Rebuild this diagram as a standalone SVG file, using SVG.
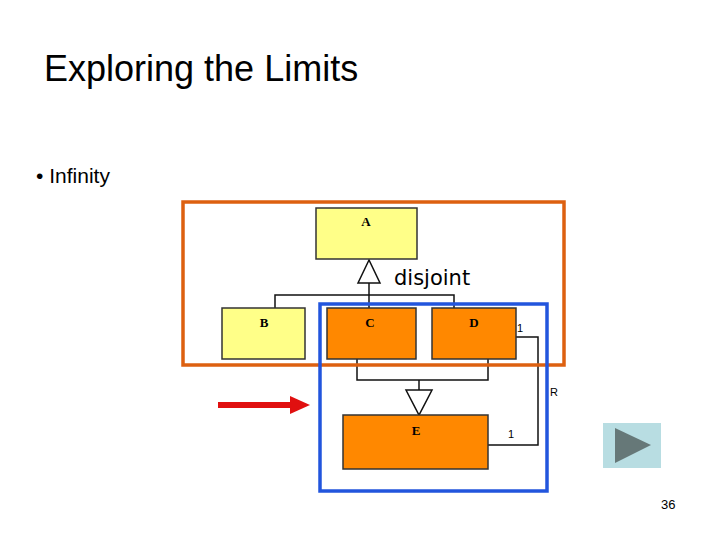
<svg xmlns="http://www.w3.org/2000/svg" width="720" height="540" viewBox="0 0 720 540">
<style>
.box{stroke:#333;stroke-width:1.5}
.y{fill:#ffff88}.o{fill:#ff8800}
.lbl{font-family:"Liberation Serif",serif;font-weight:bold;font-size:13px;text-anchor:middle}
.ln{fill:none;stroke:#111;stroke-width:1.5}
.sm{font-family:"Liberation Sans",sans-serif;font-size:11px}
</style>
<rect width="720" height="540" fill="#fff"/>
<text x="44" y="81" font-family="Liberation Sans,sans-serif" font-size="36">Exploring the Limits</text>
<text x="36" y="183" font-family="Liberation Sans,sans-serif" font-size="21">•  Infinity</text>
<g id="connectors">
<polyline class="ln" points="275,308 275,295 454,295 454,308"/>
<line class="ln" x1="369" y1="283" x2="369" y2="308"/>
<polygon points="369,260 358,283 380,283" fill="#fff" stroke="#111" stroke-width="1.5"/>
<polyline class="ln" points="357,359 357,380 488,380 488,359"/>
<line class="ln" x1="419" y1="380" x2="419" y2="390"/>
<polygon points="406,390 432,390 419,415" fill="#fff" stroke="#111" stroke-width="1.5"/>
<polyline class="ln" points="516,337 538,337 538,445 488,445"/>
<text class="sm" x="517" y="332">1</text>
<text class="sm" x="508" y="438">1</text>
<text class="sm" x="550" y="396">R</text>
</g>
<g id="A"><rect class="box y" x="316" y="208" width="101" height="51"/><text class="lbl" x="366" y="226">A</text></g>
<g id="B"><rect class="box y" x="222" y="308" width="83" height="51"/><text class="lbl" x="264" y="327">B</text></g>
<g id="C"><rect class="box o" x="327" y="308" width="89" height="51"/><text class="lbl" x="370" y="327">C</text></g>
<g id="D"><rect class="box o" x="432" y="308" width="84" height="51"/><text class="lbl" x="474" y="327">D</text></g>
<g id="E"><rect class="box o" x="343" y="415" width="145" height="54"/><text class="lbl" x="416" y="435" font-size="14">E</text></g>
<text x="394" y="285" font-family="DejaVu Sans,sans-serif" font-size="21">disjoint</text>
<rect x="183" y="202" width="381" height="163" fill="none" stroke="#dd6010" stroke-width="3.5"/>
<rect x="320" y="304" width="227" height="187" fill="none" stroke="#2255dd" stroke-width="3.5"/>
<line x1="218" y1="405" x2="292" y2="405" stroke="#e01010" stroke-width="6"/>
<polygon points="290,396 310,405 290,414" fill="#e01010"/>
<rect x="603" y="423" width="58" height="45" fill="#b8dde2"/>
<polygon points="615,428 651,445 615,463" fill="#667878"/>
<text x="661" y="509" font-family="Liberation Sans,sans-serif" font-size="13">36</text>
</svg>
